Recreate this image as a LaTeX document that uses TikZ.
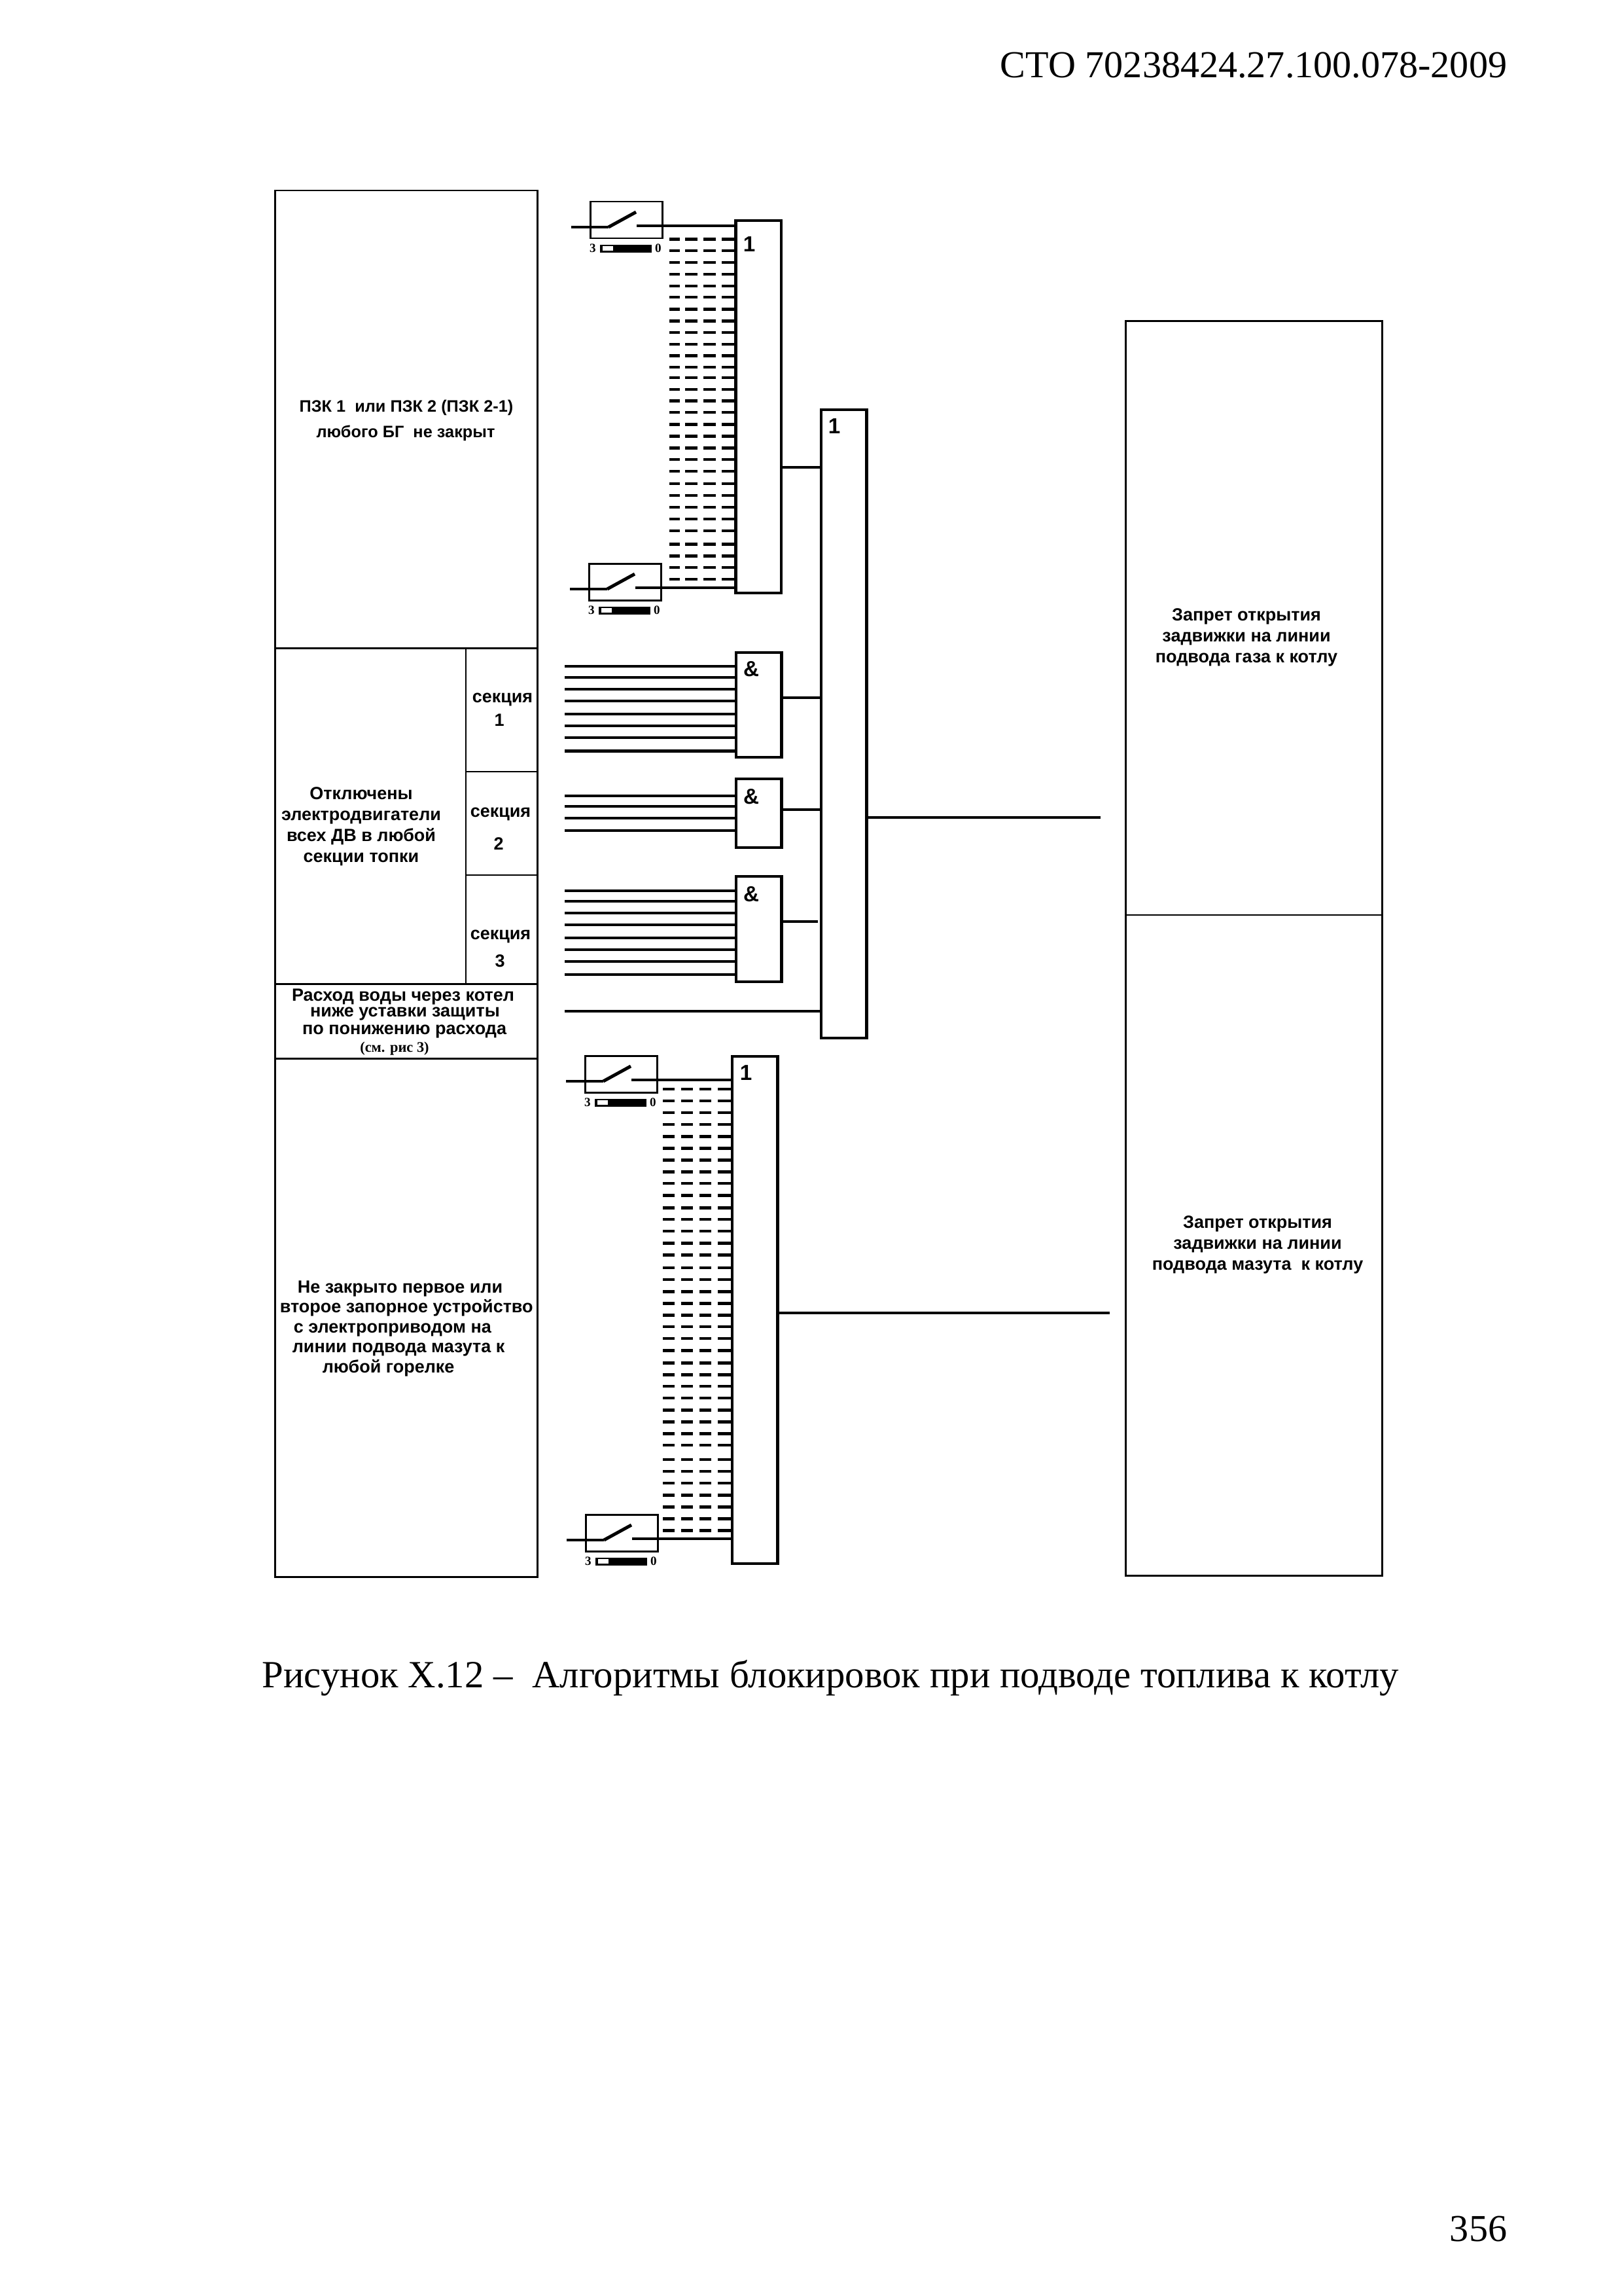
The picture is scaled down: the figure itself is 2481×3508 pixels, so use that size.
\documentclass[tikz,border=0pt]{standalone}
\usepackage{fontspec}
\setmainfont{Liberation Serif}
\newfontfamily\schemefont{Liberation Sans}
\usetikzlibrary{positioning}

\tikzset{
  frame/.style={draw,line width=0.72pt},
  thinframe/.style={draw,line width=0.5pt},
  wire/.style={line width=1pt},
  blade/.style={line width=1.2pt},
  dashrow/.style={line width=1.05pt},
  gatebox/.style={draw,line width=1pt,anchor=north west,minimum width=69.5\myu,inner sep=0pt,outer sep=0pt},
  gatemark/.style={font=\schemefont\bfseries\fontsize{8}{9}\selectfont,inner sep=0pt},
  schemetext/.style={font=\schemefont\bfseries\fontsize{6.5}{7.7}\selectfont,inner sep=0pt,align=center},
  pzktext/.style={font=\schemefont\bfseries\fontsize{6.1}{7}\selectfont,inner sep=0pt,anchor=base},
  pagetext/.style={font=\fontsize{14}{16}\selectfont,inner sep=0pt},
  tinyfig/.style={font=\bfseries\fontsize{4.6}{5}\selectfont,inner sep=0pt}
}
\newlength{\myu}
\setlength{\myu}{0.08464mm}

% contact with its scale underneath
\newcommand{\contactsym}[4]{% name, box x, box y, right end at gate
  \node[frame,anchor=north west,minimum width=110\myu,minimum height=56\myu,inner sep=0pt,outer sep=0pt] (#1) at (#2,#3) {};
  \coordinate (#1in) at (#2-29,#3+39);
  \coordinate (#1hinge) at (#2+28,#3+39);
  \coordinate (#1tip) at (#2+70,#3+16);
  \coordinate (#1out) at (#2+71,#3+37);
  \draw[wire] (#1in) -- (#1hinge);
  \draw[blade] (#1hinge) -- (#1tip);
  \draw[wire] (#1out) -- (#4,#3+37);
  \fill (#2+15,#3+66) rectangle (#2+94,#3+78);
  \fill[white] (#2+19,#3+68) rectangle (#2+35,#3+75);
  \node[tinyfig] (#1three) at (#2+4,#3+71) {3};
  \node[tinyfig] (#1zero) at (#2+104,#3+71) {0};
}

\begin{document}
\begin{tikzpicture}[x=0.08464mm,y=-0.08464mm]
  \useasboundingbox (0,0) rectangle (2481,3508);

  % page text
  \node[pagetext,anchor=east] (header) at (2304,100) {СТО 70238424.27.100.078-2009};
  \node[pagetext,anchor=west,font=\fontsize{14.16}{16}\selectfont] (caption) at (400,2564) {Рисунок Х.12 –\ \ Алгоритмы блокировок при подводе топлива к котлу};
  \node[pagetext,anchor=east] (pagenum) at (2304,3405) {356};

  % left column
  \draw[frame] (420,291) rectangle (821,2409);
  \draw[frame] (420,990) -- (821,990);
  \draw[frame] (420,1503) -- (821,1503);
  \draw[frame] (420,1617) -- (821,1617);
  \draw[thinframe] (712,990) -- (712,1503);
  \draw[thinframe] (712,1179) -- (821,1179);
  \draw[thinframe] (712,1337) -- (821,1337);

  \node[pzktext] (pzkone) at (621,629) {ПЗК 1\ \ или ПЗК 2 (ПЗК 2-1)};
  \node[pzktext] (pzktwo) at (620,668) {любого БГ\ \ не закрыт};
  \node[schemetext] (sec1a) at (768,1069) {секция};
  \node[schemetext] (sec1b) at (763,1100) {1};
  \node[schemetext] (sec2a) at (765,1244) {секция};
  \node[schemetext] (sec2b) at (762,1289) {2};
  \node[schemetext] (sec3a) at (765,1431) {секция};
  \node[schemetext] (sec3b) at (764,1468) {3};
  \node[schemetext] (motors) at (552,1263)
    {Отключены\\электродвигатели\\всех ДВ в любой\\секции топки};
  \node[schemetext] (water1) at (616,1523) {Расход воды через котел};
  \node[schemetext] (water2) at (619,1549) {ниже уставки защиты};
  \node[schemetext] (water3) at (618,1576) {по понижению расхода};
  \node[font=\bfseries\fontsize{5.4}{6}\selectfont,inner sep=0pt] (water4) at (603,1602) {(см. рис 3)};
  \node[schemetext,anchor=base west] (fuel1) at (454,1975) {Не закрыто первое или};
  \node[schemetext,anchor=base west] (fuel2) at (427,2005) {второе запорное устройство};
  \node[schemetext,anchor=base west] (fuel3) at (448,2036) {с электроприводом на};
  \node[schemetext,anchor=base west] (fuel4) at (446,2066) {линии подвода мазута к};
  \node[schemetext,anchor=base west] (fuel5) at (492,2097) {любой горелке};

  % right column
  \draw[frame] (1720,490) rectangle (2112,2407);
  \draw[thinframe] (1720,1398) -- (2112,1398);
  \node[schemetext] (gas) at (1905,974)
    {Запрет открытия\\задвижки на линии\\подвода газа к котлу};
  \node[schemetext] (oil) at (1922,1902)
    {Запрет открытия\\задвижки на линии\\подвода мазута\ \ к котлу};

  % gates
  \node[gatebox,minimum height=569\myu] (orgas) at (1124.5,337) {};
  \node[gatebox,minimum height=960\myu] (ormain) at (1255,626) {};
  \node[gatebox,minimum height=775\myu] (oroil) at (1119,1614) {};
  \node[gatebox,minimum height=160\myu] (andone) at (1125,997) {};
  \node[gatebox,minimum height=105\myu] (andtwo) at (1125,1190) {};
  \node[gatebox,minimum height=161\myu] (andthree) at (1125,1339) {};
  \node[gatemark] at (1145,373) {1};
  \node[gatemark] at (1275,651) {1};
  \node[gatemark] at (1140,1639) {1};
  \node[gatemark] at (1148,1022) {\&};
  \node[gatemark] at (1148,1217) {\&};
  \node[gatemark] at (1148,1366) {\&};

  % contacts
  \contactsym{swa}{902}{308}{1124.5}
  \contactsym{swb}{900}{861}{1124.5}
  \contactsym{swc}{894}{1613}{1119}
  \contactsym{swd}{895}{2314}{1119}

  % dashed inputs, upper group
  \foreach \r in {365.5,383.2,401.3,419,436.7,454.3,472.4,490.5,508.2,525.9,543.6,561.2,577.2,594.9,612.6,630.3,648.4,666.5,684.6,702.2,720.3,739.3,757,775,793.2,811.2,831.4,849.6,867.2,885.3}
    {\foreach \a/\b in {1023/1039,1047/1066,1075/1094,1103/1124}
      {\draw[dashrow] (\a,\r) -- (\b,\r);}}

  % dashed inputs, lower group
  \foreach \r in {1663.9,1682,1700.1,1718.2,1736.3,1754.4,1772.5,1790.6,1808.2,1826.3,1845.5,1863,1881.1,1899.3,1917.4,1937.1,1955.2,1973.3,1991.4,2009.5,2027,2045.2,2063.3,2082.5,2100.6,2118.1,2136.2,2154.3,2172.4,2190.5,2208.1,2230,2248.1,2266.2,2284.3,2302.4,2320.5,2338.6}
    {\foreach \a/\b in {1013.3/1031,1041.3/1059,1069.3/1087,1097.3/1119}
      {\draw[dashrow] (\a,\r) -- (\b,\r);}}

  % inputs of the and gates
  \foreach \r in {1018,1035.4,1053.3,1071.2,1091.3,1109.1,1127.4,1147.5}
    {\draw[wire] (863,\r) -- (andone.west |- 0,\r);}
  \foreach \r in {1216.3,1232.3,1250.2,1269}
    {\draw[wire] (863,\r) -- (andtwo.west |- 0,\r);}
  \foreach \r in {1361.3,1377.4,1395.3,1413.1,1433.2,1451.1,1468.9,1489}
    {\draw[wire] (863,\r) -- (andthree.west |- 0,\r);}
  \coordinate (waterin) at (863,1545);
  \draw[wire] (waterin) -- (ormain.west |- waterin);

  % outputs
  \draw[wire] (orgas.east |- 0,714) -- (ormain.west |- 0,714);
  \draw[wire] (andone.east |- 0,1066) -- (ormain.west |- 0,1066);
  \draw[wire] (andtwo.east |- 0,1237) -- (ormain.west |- 0,1237);
  \draw[wire] (andthree.east |- 0,1408) -- (1250,1408);
  \coordinate (gasout) at (1682,1249);
  \coordinate (oilout) at (1696,2006);
  \draw[wire] (ormain.east |- gasout) -- (gasout);
  \draw[wire] (oroil.east |- oilout) -- (oilout);
\end{tikzpicture}
\end{document}
